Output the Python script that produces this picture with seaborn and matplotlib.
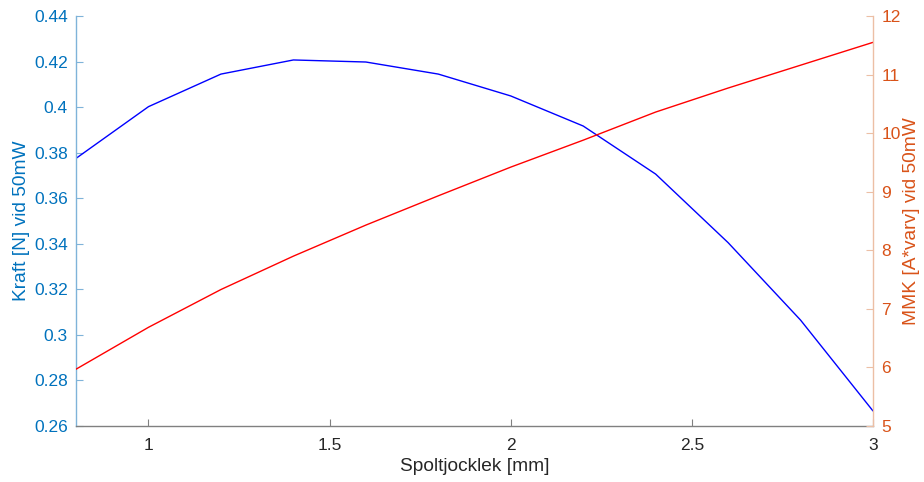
import matplotlib
matplotlib.use("Agg")
import matplotlib.pyplot as plt
import seaborn as sns
import pandas as pd

sns.set_theme(style="white")
plt.rcParams['font.family'] = ['Liberation Sans', 'DejaVu Sans']

gap_mm = [0.8, 1.0, 1.2, 1.4, 1.6, 1.8, 2.0, 2.2, 2.4, 2.6, 2.8, 3.0]
force_N = [0.3775, 0.4002, 0.4145, 0.4207, 0.4198, 0.4145, 0.4049, 0.3917, 0.3706, 0.3405, 0.3065, 0.2666]
mmk = [5.97, 6.685, 7.33, 7.90, 8.43, 8.93, 9.42, 9.88, 10.36, 10.77, 11.16, 11.55]

left_ticks = [0.26, 0.28, 0.30, 0.32, 0.34, 0.36, 0.38, 0.40, 0.42, 0.44]
left_labels = ["0.26", "0.28", "0.3", "0.32", "0.34", "0.36", "0.38", "0.4", "0.42", "0.44"]
right_ticks = [5, 6, 7, 8, 9, 10, 11, 12]
x_ticks = [1, 1.5, 2, 2.5, 3]
x_labels = ["1", "1.5", "2", "2.5", "3"]

df = pd.DataFrame({"gap": gap_mm, "force": force_N, "mmk": mmk})

C_LEFT = "#0072BD"
C_RIGHT = "#D95319"

fig = plt.figure(figsize=(9.24, 4.82), dpi=100)
ax = fig.add_axes([0.0823, 0.1162, 0.8625, 0.8506])
sns.lineplot(data=df, x="gap", y="force", ax=ax, color="#0000FF", linewidth=1.0)
ax2 = ax.twinx()
sns.lineplot(data=df, x="gap", y="mmk", ax=ax2, color="#FF0000", linewidth=1.0)

ax.set_xlim(0.8, 3.0)
ax.set_ylim(0.26, 0.44)
ax2.set_ylim(5, 12)
ax.set_xticks(x_ticks)
ax.set_xticklabels(x_labels)
ax.set_yticks(left_ticks)
ax.set_yticklabels(left_labels)
ax2.set_yticks(right_ticks)

for a in (ax, ax2):
    a.spines['top'].set_visible(False)
    a.set_facecolor('none')
ax2.spines['left'].set_visible(False)
ax2.spines['bottom'].set_visible(False)
ax.spines['right'].set_visible(False)

ax.spines['left'].set_color("#7fb3d9")
ax.spines['bottom'].set_color("#808080")
ax2.spines['right'].set_color("#ecbfa5")
for s in (ax.spines['left'], ax.spines['bottom'], ax2.spines['right']):
    s.set_linewidth(1.0)

ax.tick_params(axis='x', direction='in', length=5, width=0.8, colors="#808080",
               labelcolor="#262626", labelsize=12.5, pad=9, bottom=True)
ax.tick_params(axis='y', direction='in', length=5, width=0.8, colors="#7fb3d9",
               labelcolor=C_LEFT, labelsize=12.5, pad=6, left=True)
ax2.tick_params(axis='y', direction='in', length=5, width=0.8, colors="#ecbfa5",
                labelcolor=C_RIGHT, labelsize=12.5, pad=6, right=True)

ax.set_xlabel("Spoltjocklek [mm]", fontsize=13.8, color="#262626", labelpad=3)
ax.set_ylabel("Kraft [N] vid 50mW", fontsize=13.8, color=C_LEFT, labelpad=3)
ax2.set_ylabel("MMK [A*varv] vid 50mW", fontsize=13.8, color=C_RIGHT, labelpad=2)

fig.savefig("out.png", dpi=100, facecolor="white")
